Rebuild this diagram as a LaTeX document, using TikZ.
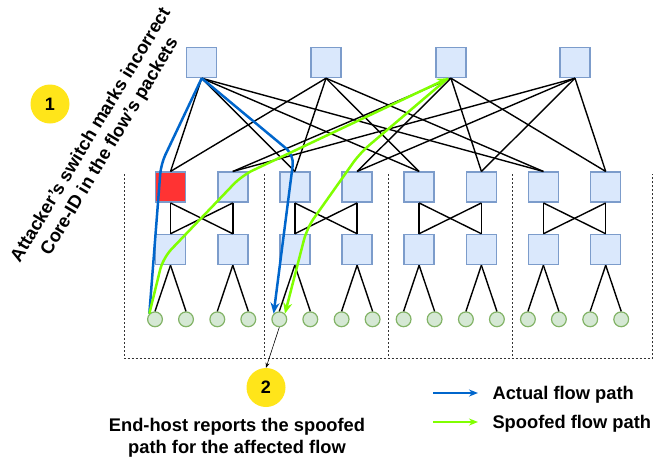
\documentclass[tikz,border=0pt]{standalone}
\usepackage{fontspec}
\setmainfont{Liberation Sans}
\usetikzlibrary{arrows.meta}
\definecolor{swfill}{HTML}{DAE8FC}
\definecolor{swdraw}{HTML}{7C9CCB}
\definecolor{hfill}{HTML}{D5E8D4}
\definecolor{hdraw}{HTML}{82B366}
\definecolor{redsw}{HTML}{FF3333}
\definecolor{actual}{HTML}{0066CC}
\definecolor{spoof}{HTML}{80FF00}
\definecolor{badgecol}{HTML}{FFE51A}
\begin{document}
\begin{tikzpicture}[x=1pt,y=-1pt,
  sw/.style={draw=swdraw, fill=swfill, line width=1.5pt, minimum size=30pt, inner sep=0pt},
  host/.style={circle, draw=hdraw, fill=hfill, line width=1.2pt, minimum size=14.8pt, inner sep=0pt},
  link/.style={line width=1.4pt, black},
  podbox/.style={line width=0.5pt, black!80, dash pattern=on 2pt off 2pt},
  actualpath/.style={actual, line width=2.5pt, rounded corners=10pt},
  spoofpath/.style={spoof, line width=2.5pt, rounded corners=12pt},
  tip/.style={-{Stealth[length=11pt,width=9pt]}},
  badge/.style={circle, fill=badgecol, minimum size=39pt, inner sep=0pt, font=\bfseries\fontsize{18}{22}\selectfont},
  lbl/.style={font=\bfseries\fontsize{18.3}{22}\selectfont}
]
\useasboundingbox (0,0) rectangle (671,461);
% pod boxes (open at the top)
\draw[podbox] (124,174) -- (124,358.3) -- (652.7,358.3) -- (652.7,174);
\foreach \x in {264.3,388.3,512.7} \draw[podbox] (\x,174) -- (\x,358.3);
% core switches
\foreach \i/\x in {1/201.7,2/326,3/451,4/575}
  \node[sw] (c\i) at (\x,62.5) {};
% aggregation and edge switches
\foreach \i/\x in {1/170.5,2/232.8,3/294.8,4/357.1,5/419.1,6/481.4,7/543.4,8/605.7}{
  \node[sw] (a\i) at (\x,187.2) {};
  \node[sw] (e\i) at (\x,249.5) {};
}
\node[sw, fill=redsw] at (a1) {};
% hosts
\foreach \i/\x in {1/170.5,2/232.8,3/294.8,4/357.1,5/419.1,6/481.4,7/543.4,8/605.7}{
  \pgfmathtruncatemacro{\ha}{2*\i-1}
  \pgfmathtruncatemacro{\hb}{2*\i}
  \node[host] (h\ha) at (\x-15.5,319.3) {};
  \node[host] (h\hb) at (\x+15.5,319.3) {};
  \draw[link] (e\i.south) -- (h\ha.north);
  \draw[link] (e\i.south) -- (h\hb.north);
}
% core - aggregation links
\foreach \a in {1,3,5,7}{
  \draw[link] (c1.south) -- (a\a.north);
  \draw[link] (c2.south) -- (a\a.north);
}
\foreach \a in {2,4,6,8}{
  \draw[link] (c3.south) -- (a\a.north);
  \draw[link] (c4.south) -- (a\a.north);
}
% aggregation - edge links
\foreach \p in {1,...,4}{
  \pgfmathtruncatemacro{\l}{2*\p-1}
  \pgfmathtruncatemacro{\r}{2*\p}
  \draw[link] (a\l.south) -- (e\l.north);
  \draw[link] (a\l.south) -- (e\r.north);
  \draw[link] (a\r.south) -- (e\l.north);
  \draw[link] (a\r.south) -- (e\r.north);
}
% actual flow path
\coordinate (bb1) at (161,164);
\coordinate (bb2) at (294,155);
\draw[actualpath] (h1.north west) -- (bb1) -- (c1.south);
\draw[actualpath, tip] (c1.south) -- (bb2) -- (h5.north west);
% spoofed flow path
\coordinate (g1) at (163,258);
\coordinate (g2) at (242,175.5);
\coordinate (g3) at (360,153);
\coordinate (g4) at (307,228);
\coordinate (c3in) at ([xshift=-3pt]c3.south);
\draw[spoofpath, tip] (h1.north west) -- (g1) -- (g2) -- (c3in);
\draw[spoofpath, tip] (c3in) -- (g3) -- (g4) -- (h5.north east);
% badges and texts
\node[badge] (b1) at (50,104) {1};
\node[badge] (b2) at (266,387.5) {2};
\draw[line width=0.6pt, -{Stealth[length=5pt,width=4pt]}] (h5.south) -- (b2.north);
\node[lbl, rotate=59, align=center] (t1) at (100.75,141) {Attacker's switch marks incorrect\\Core-ID in the flow's packets};
\node[lbl, align=center, anchor=base] (t2) at (237,453.5) {End-host reports the spoofed\\path for the affected flow};
% legend
\coordinate (la1) at (433,393);
\coordinate (la2) at (478,393);
\coordinate (lb1) at (433,422);
\coordinate (lb2) at (478,422);
\draw[actual, line width=2pt, -{Stealth[length=9pt,width=7pt]}] (la1) -- (la2);
\draw[spoof, line width=2pt, -{Stealth[length=9pt,width=7pt]}] (lb1) -- (lb2);
\node[lbl, anchor=base west] (l1) at (489,399.5) {Actual flow path};
\node[lbl, anchor=base west] (l2) at (489,428.5) {Spoofed flow path};
\end{tikzpicture}
\end{document}
